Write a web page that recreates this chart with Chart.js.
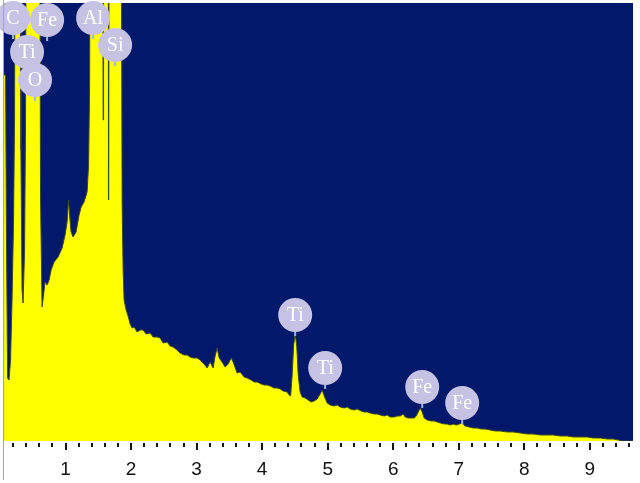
<!DOCTYPE html>
<html>
<head>
<meta charset="utf-8">
<script src="https://cdn.jsdelivr.net/npm/chart.js@4"></script>
<style>
  body { margin: 0; background: #ffffff; }
</style>
</head>
<body>
<canvas id="eds-chart" width="640" height="483"></canvas>
<script>
// spectrum: energy in keV, counts (peaks above 4380 run off the top)
const energy = [
  0.061, 0.084, 0.099, 0.115, 0.137, 0.160, 0.183, 0.206, 0.221, 0.232,
  0.305, 0.318, 0.336, 0.351, 0.374, 0.389, 0.400, 0.603, 0.618, 0.641,
  0.664, 0.687, 0.718, 0.748, 0.779, 0.824, 0.885, 0.947, 0.992, 1.023,
  1.046, 1.061, 1.084, 1.115, 1.160, 1.206, 1.237, 1.282, 1.328, 1.351,
  1.366, 1.379, 1.565, 1.573, 1.580, 1.649, 1.656, 1.664, 1.847, 1.863,
  1.878, 1.893, 1.924, 1.954, 1.985, 2.015, 2.046, 2.092, 2.137, 2.183,
  2.229, 2.290, 2.336, 2.397, 2.443, 2.489, 2.550, 2.595, 2.641, 2.702,
  2.748, 2.809, 2.855, 2.901, 2.947, 3.008, 3.053, 3.115, 3.160, 3.206,
  3.252, 3.282, 3.313, 3.344, 3.389, 3.435, 3.481, 3.527, 3.557, 3.618,
  3.664, 3.725, 3.771, 3.832, 3.878, 3.924, 3.985, 4.031, 4.076, 4.122,
  4.183, 4.229, 4.275, 4.321, 4.382, 4.412, 4.435, 4.458, 4.481, 4.504,
  4.527, 4.550, 4.580, 4.611, 4.656, 4.702, 4.748, 4.794, 4.840, 4.885,
  4.916, 4.947, 4.992, 5.038, 5.099, 5.145, 5.191, 5.252, 5.298, 5.344,
  5.405, 5.450, 5.511, 5.557, 5.603, 5.649, 5.710, 5.756, 5.802, 5.863,
  5.908, 5.954, 6.015, 6.061, 6.107, 6.153, 6.183, 6.229, 6.275, 6.321,
  6.351, 6.382, 6.412, 6.443, 6.473, 6.519, 6.580, 6.626, 6.672, 6.718,
  6.779, 6.824, 6.870, 6.916, 6.962, 7.008, 7.053, 7.099, 7.160, 7.221,
  7.282, 7.344, 7.405, 7.481, 7.557, 7.634, 7.740, 7.832, 7.939, 8.046,
  8.137, 8.244, 8.351, 8.443, 8.550, 8.656, 8.748, 8.855, 8.962, 9.053,
  9.160, 9.267, 9.359, 9.435, 9.496, 9.664
]
const counts = [
  3660, 3660, 1910, 630, 610, 810, 1410, 2210, 3210, 6000,
  6000, 2910, 1510, 1380, 1910, 3210, 6000, 6000, 2410, 1340,
  1460, 1590, 1560, 1610, 1710, 1790, 1840, 1930, 2060, 2190,
  2410, 2260, 2090, 2040, 2090, 2260, 2340, 2390, 2490, 2760,
  3510, 6000, 6000, 3210, 6000, 6000, 2410, 6000, 6000, 2380,
  1710, 1410, 1310, 1250, 1170, 1130, 1140, 1090, 1110, 1110,
  1070, 1080, 1040, 1040, 1030, 980, 990, 950, 940, 910,
  880, 860, 860, 840, 830, 830, 810, 770, 730, 790,
  730, 850, 930, 830, 790, 740, 770, 830, 790, 680,
  690, 640, 630, 610, 590, 590, 570, 560, 560, 550,
  530, 530, 520, 500, 490, 460, 450, 660, 960, 1070,
  960, 660, 490, 440, 430, 410, 390, 400, 420, 470,
  510, 450, 380, 360, 350, 360, 340, 330, 340, 320,
  310, 320, 300, 290, 290, 280, 270, 270, 260, 250,
  260, 240, 240, 250, 250, 270, 240, 230, 230, 230,
  250, 290, 330, 290, 230, 210, 200, 200, 190, 180,
  170, 170, 160, 170, 160, 170, 180, 150, 140, 130,
  130, 120, 120, 110, 100, 100, 90, 90, 80, 70,
  70, 60, 60, 60, 50, 50, 40, 40, 40, 30,
  30, 20, 20, 10, 0, 0
]

const peakNames = ['C', 'Fe', 'Ti', 'O', 'Al', 'Si', 'Ti', 'Ti', 'Fe', 'Fe']
const peakLabelEnergy = [0.198, 0.718, 0.412, 0.534, 1.420, 1.756, 4.504, 4.962, 6.443, 7.053]
const peakLabelCounts = [4230, 4210, 3890, 3610, 4230, 3960, 1260, 730, 540, 380]

const tickValues = [1, 2, 3, 4, 5, 6, 7, 8, 9]
const tickLabels = ['1', '2', '3', '4', '5', '6', '7', '8', '9']
const minorStep = 0.2

const backgroundPlugin = {
  id: 'navyBackground',
  beforeDatasetsDraw: (chart) => {
    const { ctx, chartArea } = chart
    ctx.save()
    ctx.fillStyle = '#02186b'
    ctx.fillRect(chartArea.left, chartArea.top, chartArea.right - chartArea.left, chartArea.bottom - chartArea.top)
    ctx.restore()
  }
}

// x axis drawn by hand: marks every 0.2 keV, longer marks + labels on whole keV
const axisPlugin = {
  id: 'energyAxis',
  afterDraw: (chart) => {
    const { ctx, chartArea } = chart
    const xScale = chart.scales.x
    ctx.save()
    ctx.strokeStyle = '#a6a6a6'
    ctx.lineWidth = 1
    ctx.beginPath()
    ctx.moveTo(3.5, 0)
    ctx.lineTo(3.5, 480)
    ctx.stroke()

    ctx.strokeStyle = '#151515'
    ctx.lineWidth = 2
    for (let k = 1; k * minorStep <= xScale.max; k++) {
      const v = k * minorStep
      const major = k % 5 === 0
      const px = Math.round(xScale.getPixelForValue(v))
      ctx.beginPath()
      ctx.moveTo(px, chartArea.bottom + 2)
      ctx.lineTo(px, chartArea.bottom + (major ? 9 : 6))
      ctx.stroke()
    }

    ctx.fillStyle = '#111111'
    ctx.font = '19px "Liberation Sans", Arial, sans-serif'
    ctx.textAlign = 'center'
    ctx.textBaseline = 'middle'
    tickValues.forEach((v, i) => {
      ctx.fillText(tickLabels[i], xScale.getPixelForValue(v), chartArea.bottom + 29)
    })
    ctx.restore()
  }
}

const peakLabelPlugin = {
  id: 'peakLabels',
  afterDatasetsDraw: (chart) => {
    const { ctx } = chart
    const xScale = chart.scales.x
    const yScale = chart.scales.y
    const r = 17
    ctx.save()
    peakNames.forEach((name, i) => {
      const cx = xScale.getPixelForValue(peakLabelEnergy[i])
      const cy = yScale.getPixelForValue(peakLabelCounts[i])
      ctx.strokeStyle = '#9fb6dc'
      ctx.lineWidth = 2
      ctx.beginPath()
      ctx.moveTo(cx, cy + r - 2)
      ctx.lineTo(cx, cy + r + 4)
      ctx.stroke()
      ctx.fillStyle = '#c6c2e3'
      ctx.beginPath()
      ctx.arc(cx, cy, r, 0, Math.PI * 2)
      ctx.fill()
      ctx.fillStyle = '#ffffff'
      ctx.font = '20px "Liberation Serif", serif'
      ctx.textAlign = 'center'
      ctx.textBaseline = 'middle'
      ctx.fillText(name, cx, cy + 1)
    })
    ctx.restore()
  }
}

const ctx = document.getElementById('eds-chart')
new Chart(ctx, {
  type: 'line',
  data: {
    datasets: [{
      label: 'EDS spectrum',
      data: energy.map((e, i) => ({ x: e, y: counts[i] })),
      fill: 'origin',
      backgroundColor: '#ffff00',
      borderColor: '#3d4a22',
      borderWidth: 1,
      pointRadius: 0,
      tension: 0
    }]
  },
  options: {
    responsive: false,
    animation: false,
    devicePixelRatio: 1,
    layout: {
      padding: { left: 4, right: 7, top: 3, bottom: 42 }
    },
    plugins: {
      legend: { display: false },
      tooltip: { enabled: false }
    },
    scales: {
      x: {
        type: 'linear',
        display: false,
        min: 0.06,
        max: 9.66
      },
      y: {
        display: false,
        min: 0,
        max: 4380
      }
    }
  },
  plugins: [backgroundPlugin, axisPlugin, peakLabelPlugin]
})
</script>
</body>
</html>
